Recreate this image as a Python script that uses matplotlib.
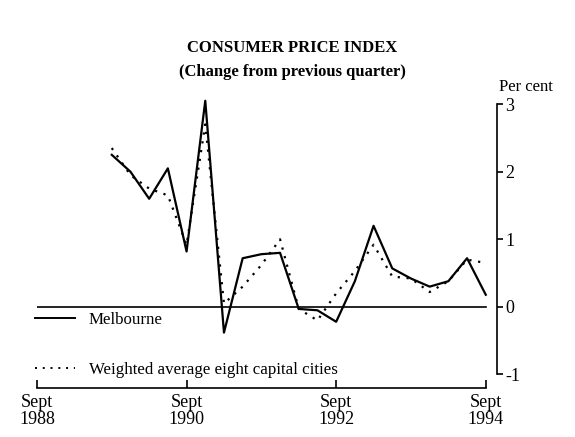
import pandas as pd
import matplotlib.pyplot as plt
from matplotlib.lines import Line2D

# Квартальные данные, сентябрь 1989 - сентябрь 1994
quarters = pd.period_range("1989Q3", "1994Q3", freq="Q")
melbourne = [2.25, 2.0, 1.6, 2.05, 0.82, 3.05, -0.38, 0.72, 0.78, 0.8, -0.03,
             -0.05, -0.22, 0.38, 1.2, 0.57, 0.42, 0.3, 0.38, 0.72, 0.18]
weighted = [2.35, 1.95, 1.75, 1.65, 0.92, 2.7, 0.05, 0.3, 0.62, 1.0, -0.03,
            -0.2, 0.2, 0.53, 0.92, 0.45, 0.42, 0.22, 0.38, 0.7, 0.65]

tick_years = ["1988", "1990", "1992", "1994"]

start = pd.Period("1988Q3", freq="Q")
x = [(q - start).n for q in quarters]
tick_pos = [(pd.Period(y + "Q3", freq="Q") - start).n for y in tick_years]

plt.rcParams['font.family'] = ['Liberation Serif', 'DejaVu Serif']

fig = plt.figure(figsize=(5.75, 4.37), dpi=100)
ax = fig.add_axes([0.0643, 0.1121, 0.80, 0.6728])

ax.plot([tick_pos[0], tick_pos[-1]], [0, 0], color='black', linewidth=1.2)
ax.plot(x, melbourne, color='black', linewidth=1.6)
ax.plot(x, weighted, color='black', linewidth=1.6, linestyle=(0, (1, 3)))

ax.set_xlim(0, 24.6)
ax.set_ylim(-1.2, 3.15)

ax.spines['top'].set_visible(False)
ax.spines['left'].set_visible(False)
ax.spines['right'].set_bounds(-1, 3)
ax.spines['bottom'].set_bounds(tick_pos[0], tick_pos[-1])
ax.spines['right'].set_linewidth(1.2)
ax.spines['bottom'].set_linewidth(1.2)

ax.yaxis.tick_right()
ax.set_yticks([-1, 0, 1, 2, 3])
ax.set_yticklabels(["-1", "0", "1", "2", "3"])
ax.tick_params(axis='y', direction='out', length=4, width=1.2, labelsize=13, pad=2)

ax.set_xticks(tick_pos)
ax.set_xticklabels(["Sept\n" + y for y in tick_years])
ax.tick_params(axis='x', direction='in', length=6, width=1.2, labelsize=13, pad=4)
for lbl in ax.get_xticklabels():
    lbl.set_linespacing(1.0)

fig.text(0.868, 0.80, "Per cent", fontsize=12, ha='left', va='center')
fig.text(0.508, 0.89, "CONSUMER PRICE INDEX", fontsize=12, fontweight='bold',
         ha='center', va='center')
fig.text(0.508, 0.835, "(Change from previous quarter)", fontsize=12,
         fontweight='bold', ha='center', va='center')

handles = [Line2D([], [], color='black', linewidth=1.4),
           Line2D([], [], color='black', linewidth=1.4, linestyle=(0, (1, 3)))]
ax.legend(handles, ["Melbourne", "Weighted average eight capital cities"],
          loc='lower left', bbox_to_anchor=(-0.02, 0.01), frameon=False,
          fontsize=12.2, handlelength=2.4, handletextpad=0.8, labelspacing=2.05,
          borderaxespad=0)

fig.savefig("out.png", dpi=100)
